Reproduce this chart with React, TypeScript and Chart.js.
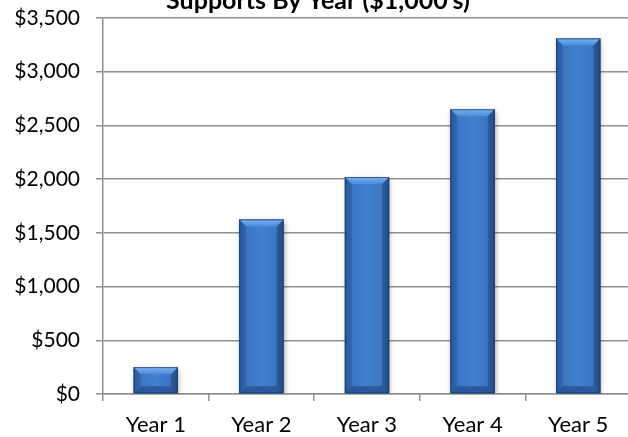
import React, { useEffect, useRef } from "react";
import { Chart, registerables } from "chart.js";

Chart.register(...registerables);

const titleText = "Supports By Year ($1,000's)";
const categories = ["Year 1", "Year 2", "Year 3", "Year 4", "Year 5"];
const values = [250, 1625, 2020, 2650, 3310];
const yMin = 0;
const yMax = 3500;
const yStep = 500;

const FONT = "Lato, 'Open Sans', sans-serif";

const bevelPlugin = {
  id: "bevelBars",
  beforeDatasetsDraw(chart: any) {
    const ctx = chart.ctx;
    ctx.save();
    ctx.shadowColor = "rgba(0,0,0,0.35)";
    ctx.shadowBlur = 5;
    ctx.shadowOffsetX = 1;
    ctx.shadowOffsetY = 2;
  },
  afterDatasetsDraw(chart: any) {
    const ctx = chart.ctx;
    ctx.restore();
    const meta = chart.getDatasetMeta(0);
    meta.data.forEach((bar: any) => {
      const { x, y, base, width } = bar.getProps(["x", "y", "base", "width"], true);
      const l = x - width / 2;
      const r = x + width / 2;
      const t = y;
      const b = base;
      const h = b - t;
      const bv = Math.min(7, h / 2, width / 2);
      ctx.save();
      const g = ctx.createLinearGradient(l, 0, r, 0);
      g.addColorStop(0, "#2b5c9c");
      g.addColorStop(0.15, "#3a75c2");
      g.addColorStop(0.5, "#4181d1");
      g.addColorStop(0.85, "#3a75c2");
      g.addColorStop(1, "#28558f");
      ctx.fillStyle = g;
      ctx.fillRect(l, t, width, h);
      const gt = ctx.createLinearGradient(0, t, 0, t + bv);
      gt.addColorStop(0, "#7db3f0");
      gt.addColorStop(1, "#4a8bda");
      ctx.fillStyle = gt;
      ctx.beginPath();
      ctx.moveTo(l, t);
      ctx.lineTo(r, t);
      ctx.lineTo(r - bv, t + bv);
      ctx.lineTo(l + bv, t + bv);
      ctx.closePath();
      ctx.fill();
      ctx.fillStyle = "rgba(40,85,150,0.45)";
      ctx.beginPath();
      ctx.moveTo(l, t);
      ctx.lineTo(l + bv, t + bv);
      ctx.lineTo(l + bv, b - bv);
      ctx.lineTo(l, b);
      ctx.closePath();
      ctx.fill();
      ctx.fillStyle = "rgba(30,65,120,0.5)";
      ctx.beginPath();
      ctx.moveTo(r, t);
      ctx.lineTo(r - bv, t + bv);
      ctx.lineTo(r - bv, b - bv);
      ctx.lineTo(r, b);
      ctx.closePath();
      ctx.fill();
      ctx.fillStyle = "rgba(35,75,135,0.7)";
      ctx.beginPath();
      ctx.moveTo(l, b);
      ctx.lineTo(r, b);
      ctx.lineTo(r - bv, b - bv);
      ctx.lineTo(l + bv, b - bv);
      ctx.closePath();
      ctx.fill();
      ctx.strokeStyle = "rgba(25,55,100,0.7)";
      ctx.lineWidth = 1;
      ctx.strokeRect(l + 0.5, t + 0.5, width - 1, h - 1);
      ctx.restore();
    });
  },
};

const titlePlugin = {
  id: "topTitle",
  afterDraw(chart: any) {
    const ctx = chart.ctx;
    ctx.save();
    ctx.font = `bold 25px ${FONT}`;
    ctx.fillStyle = "#000";
    ctx.textAlign = "center";
    ctx.textBaseline = "alphabetic";
    ctx.fillText(titleText, 318, 9);
    ctx.restore();
  },
};

export default function App() {
  const ref = useRef<HTMLCanvasElement>(null);
  useEffect(() => {
    if (!ref.current) return;
    const chart = new Chart(ref.current, {
      type: "bar",
      data: {
        labels: categories,
        datasets: [
          {
            data: values,
            backgroundColor: "#3b78c4",
            borderWidth: 0,
            categoryPercentage: 1,
            barPercentage: 0.42,
          },
        ],
      },
      options: {
        responsive: false,
        animation: false,
        layout: { padding: { top: 18, right: 9, left: 0, bottom: 0 } },
        plugins: {
          legend: { display: false },
          title: { display: false },
          tooltip: { enabled: false },
        },
        scales: {
          x: {
            afterFit: (s: any) => {
              s.height = 43;
              s.paddingLeft = 0;
              s.paddingRight = 0;
            },
            grid: {
              drawOnChartArea: false,
              drawTicks: true,
              tickLength: 7,
              offset: true,
              color: "#8f8f8f",
              lineWidth: 1.5,
            },
            border: { color: "#8f8f8f", width: 1.5 },
            ticks: {
              color: "#000",
              font: { family: FONT, size: 22 },
              padding: 11,
              maxRotation: 0,
            },
          },
          y: {
            min: yMin,
            max: yMax,
            afterFit: (s: any) => {
              s.width = 103;
              s.paddingTop = 0;
              s.paddingBottom = 0;
            },
            grid: {
              color: "#8f8f8f",
              lineWidth: 1.5,
              tickLength: 7,
            },
            border: { color: "#8f8f8f", width: 1.5 },
            ticks: {
              stepSize: yStep,
              color: "#000",
              font: { family: FONT, size: 21 },
              padding: 16,
              callback: (v: any) => "$" + Number(v).toLocaleString("en-US"),
            },
          },
        },
      },
      plugins: [bevelPlugin, titlePlugin],
    });
    return () => chart.destroy();
  }, []);
  return (
    <div
      style={{
        position: "absolute",
        left: 0,
        top: 0,
        width: 628,
        height: 437,
        overflow: "hidden",
        background: "#fff",
      }}
    >
      <canvas ref={ref} width={640} height={437} style={{ width: 640, height: 437, display: "block" }} />
    </div>
  );
}
